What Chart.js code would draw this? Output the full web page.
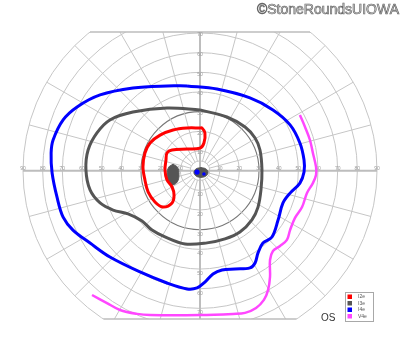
<!DOCTYPE html>
<html>
<head>
<meta charset="utf-8">
<script src="https://cdn.jsdelivr.net/npm/chart.js@4.4.0/dist/chart.umd.min.js"></script>
<style>
  html, body { margin: 0; padding: 0; background: #fff; }
  #wrap { width: 400px; height: 352px; }
</style>
</head>
<body>
<div id="wrap"><canvas id="c" width="400" height="352"></canvas></div>
<script>
/* Goldmann visual field, left eye (OS). Coordinates in degrees: x = horizontal, y = vertical. */
const ringSteps = [5, 10, 20, 30, 40, 50, 60, 70, 80, 90];
const hLabels = [10, 20, 30, 40, 50, 60, 70, 80, 90];
const vLabelsUp = [10, 20, 30, 40, 50, 60, 70];
const vLabelsDown = [10, 20, 30, 40, 50, 60, 70];
const legendLabels = ["I2e", "I3e", "I4e", "V4e"];
const eyeLabel = "OS";
const credit = "\u00A9StoneRoundsUIOWA";

const i2e = [[0, 21.7], [-6.6, 21.7], [-13.7, 20.7], [-20.3, 18.1], [-25.4, 14.1], [-28, 9], [-29, 1.9], [-28, -4.7],
  [-26.4, -10.8], [-22.9, -15.9], [-18.8, -18.5], [-14.2, -16.4], [-13.2, -12.4], [-14.2, -8.3], [-16.8, -4.7],
  [-17.8, 0.4], [-17.3, 5.4], [-16.8, 9], [-14.2, 10.5], [-6.6, 11], [0, 11.5], [2, 14.1], [2.5, 19.2], [1, 21.7], [0, 21.7]];
const i3e = [[0, 30.9], [13.7, 27.3], [22.9, 22.2], [28, 16.6], [30.5, 10.5], [31.5, 0.4], [31, -9.8], [29.5, -18.5],
  [26.4, -25], [20.3, -31.2], [12.7, -34.7], [3.6, -36.7], [-7.6, -37.3], [-17.8, -33.7], [-24.4, -30.2], [-29.5, -25.6],
  [-36.6, -22], [-44.2, -20], [-50.8, -16.4], [-55.9, -9.8], [-58, 0.4], [-56.9, 10.5], [-52.4, 19.2], [-45.8, 25.8],
  [-34.1, 29.8], [-16.8, 31.9], [0, 30.9]];
const i4e = [[-6.6, 43.1], [8.6, 41.5], [25.4, 37], [37.1, 30.9], [45.8, 23.3], [50.8, 14.1], [52.9, 5.4], [52.9, -0.7],
  [50.8, -6.3], [45.8, -11.4], [42.2, -16.4], [39.7, -25.1], [36.6, -33.7], [32, -36.8], [29.5, -41.8], [28, -46.9],
  [25.4, -49.4], [17.8, -50], [11.2, -50.5], [6.6, -52.5], [2.5, -56.6], [-1.5, -59.6], [-6.6, -60.1], [-16.8, -57.1],
  [-30.5, -51.5], [-45.8, -43.9], [-55.9, -36.8], [-64.6, -30.2], [-69.6, -23.6], [-72.7, -13.5], [-75.2, -1.2],
  [-75.7, 9], [-74.7, 15.6], [-69.6, 25.8], [-62.5, 32.4], [-50.8, 38.5], [-34.1, 42], [-16.8, 43.1], [-6.6, 43.1]];
const v4e = [[50.8, 28.3], [53.4, 22.2], [55.9, 15.6], [57.4, 9], [59, 1.9], [59, -2.2], [57.4, -6.3], [54.4, -11.3],
  [51.9, -18.5], [48.3, -24], [45.8, -30.2], [44.2, -35.2], [40.7, -38.3], [37.1, -40.8], [35.6, -45.4], [35.6, -54],
  [34.6, -60.7], [32.5, -65.7], [28.5, -69.8], [22.9, -72.3], [16.8, -72.8], [0, -73.4], [-25.4, -73.4], [-32, -72.8],
  [-40.7, -70.8], [-47.3, -67.3], [-54.9, -63.2]];
const blindSpot = [[-13.7, 3.3], [-11.5, 1.8], [-10.7, -1.9], [-11.5, -5.6], [-13.7, -7.1], [-15.9, -5.6], [-16.7, -1.9],
  [-15.9, 1.8], [-13.7, 3.3]];
const centralI3e = [[0.5, 1.6], [3, 0.9], [4.1, -0.9], [3, -2.7], [0.5, -3.4], [-2, -2.7], [-3.1, -0.9], [-2, 0.9], [0.5, 1.6]];
const centralI4e = [[-1.5, -0.7], [2, -1.7]];

const pts = (a) => a.map((p) => ({ x: p[0], y: p[1] }));
const C = { red: "#ff0000", gray: "#555555", blue: "#0000ff", mag: "#ff47ff", grid: "#c6c6c6" };

const iso = (label, data, color, w) => ({ label, data: pts(data), showLine: true, borderColor: color, borderWidth: w,
  pointRadius: 0, tension: 0.35, fill: false, legend: true });
const blob = (data, color) => ({ data: pts(data), showLine: true, borderColor: color, backgroundColor: color,
  borderWidth: 1, pointRadius: 0, tension: 0.4, fill: "shape" });

const polarGrid = {
  id: "polarGrid",
  beforeDatasetsDraw(chart) {
    const { ctx, chartArea: a, scales: { x, y } } = chart;
    const cx = x.getPixelForValue(0), cy = y.getPixelForValue(0);
    const kx = x.getPixelForValue(1) - cx, ky = cy - y.getPixelForValue(1);
    const R = 90;
    ctx.save();
    ctx.beginPath(); ctx.rect(a.left - 2, a.top, a.right - a.left + 4, a.bottom - a.top); ctx.clip();
    ringSteps.forEach((r) => {
      ctx.strokeStyle = r === 30 ? "#777" : C.grid;
      ctx.lineWidth = r === 30 ? 1.1 : 1;
      ctx.beginPath(); ctx.ellipse(cx, cy, r * kx, r * ky, 0, 0, Math.PI * 2); ctx.stroke();
    });
    for (let d = 0; d < 360; d += 15) {
      const t = d * Math.PI / 180, axis = d % 90 === 0;
      ctx.strokeStyle = axis ? "#bdbdbd" : C.grid;
      ctx.lineWidth = axis ? 2 : 1;
      const r0 = axis ? 0 : 5;
      ctx.beginPath();
      ctx.moveTo(cx + Math.cos(t) * r0 * kx, cy - Math.sin(t) * r0 * ky);
      ctx.lineTo(cx + Math.cos(t) * R * kx, cy - Math.sin(t) * R * ky);
      ctx.stroke();
    }
    ctx.restore();
    // flat top and bottom edges of the field
    ctx.save();
    ctx.strokeStyle = "#bdbdbd"; ctx.lineWidth = 1.5;
    [a.top, a.bottom].forEach((py) => {
      const dy = (py - cy) / ky, half = Math.sqrt(R * R - dy * dy) * kx;
      ctx.beginPath(); ctx.moveTo(cx - half, py); ctx.lineTo(cx + half, py); ctx.stroke();
    });
    // degree labels
    ctx.fillStyle = "#9a9a9a"; ctx.font = "5px Arial, 'Liberation Sans', sans-serif";
    ctx.textAlign = "center"; ctx.textBaseline = "middle";
    hLabels.forEach((r) => {
      ctx.fillText(String(r), cx - r * kx, cy - 2);
      ctx.fillText(String(r), cx + r * kx, cy - 2);
    });
    vLabelsUp.forEach((r) => ctx.fillText(String(r), cx, cy - r * ky + 2));
    vLabelsDown.forEach((r) => ctx.fillText(String(r), cx, cy + r * ky + 4.5));
    ctx.restore();
  },
  afterDraw(chart) {
    const { ctx, chartArea: a } = chart;
    ctx.save();
    // legend box
    const items = chart.data.datasets.filter((d) => d.legend);
    const bx = a.right - 32, by = a.bottom - 27;
    ctx.fillStyle = "#fff"; ctx.fillRect(bx, by, 28, 29);
    ctx.strokeStyle = "#a8a8a8"; ctx.lineWidth = 1; ctx.strokeRect(bx + 0.5, by + 0.5, 28, 29);
    ctx.font = "5px Arial, 'Liberation Sans', sans-serif"; ctx.textBaseline = "middle"; ctx.textAlign = "left";
    items.forEach((d, i) => {
      const yy = by + 2.5 + i * 6.5;
      ctx.fillStyle = d.borderColor; ctx.fillRect(bx + 2.5, yy, 4.5, 4.5);
      ctx.fillStyle = "#555"; ctx.fillText(d.label, bx + 13, yy + 2.5);
    });
    // eye label
    ctx.fillStyle = "#333"; ctx.font = "10px Arial, 'Liberation Sans', sans-serif"; ctx.textBaseline = "alphabetic";
    ctx.fillText(eyeLabel, 321, 320.5);
    // credit, outlined lettering
    ctx.font = "14px Arial, 'Liberation Sans', sans-serif"; ctx.textAlign = "right";
    ctx.lineWidth = 0.7; ctx.strokeStyle = "#666"; ctx.fillStyle = "#e4e4e4";
    ctx.fillText(credit, 399, 13.5); ctx.strokeText(credit, 399, 13.5);
    ctx.restore();
  }
};

new Chart(document.getElementById("c"), {
  type: "scatter",
  data: {
    datasets: [
      iso(legendLabels[0], i2e, C.red, 3),
      iso(legendLabels[1], i3e, C.gray, 3),
      iso(legendLabels[2], i4e, C.blue, 3),
      iso(legendLabels[3], v4e, C.mag, 2.5),
      blob(blindSpot, C.gray),
      blob(centralI3e, C.gray),
      { data: pts(centralI4e), order: -1, pointRadius: [2.6, 1.8], pointBackgroundColor: C.blue,
        pointBorderColor: C.blue, pointBorderWidth: 0, showLine: false }
    ]
  },
  options: {
    responsive: false, animation: false,
    layout: { padding: { left: 23, right: 23, top: 32, bottom: 33 } },
    scales: {
      x: { type: "linear", min: -90, max: 90, display: false },
      y: { type: "linear", min: -75.4, max: 70.5, display: false }
    },
    plugins: { legend: { display: false }, tooltip: { enabled: false } }
  },
  plugins: [polarGrid]
});
</script>
</body>
</html>
